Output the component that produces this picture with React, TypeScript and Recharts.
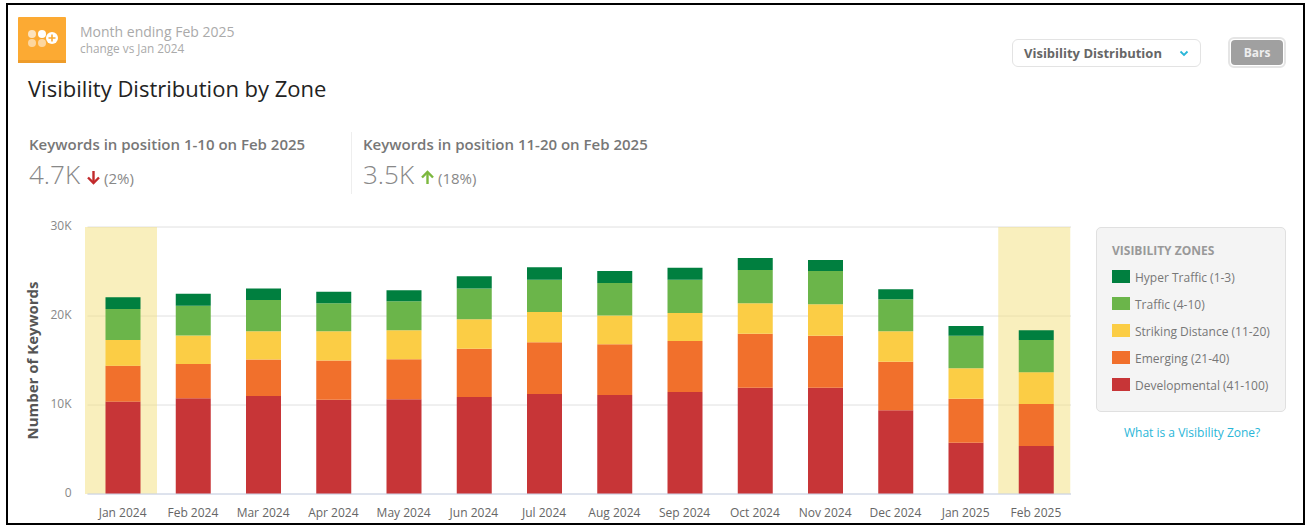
import React from "react";
import {
  BarChart,
  Bar,
  XAxis,
  YAxis,
  CartesianGrid,
  ReferenceArea,
} from "recharts";

const months = [
  "Jan 2024", "Feb 2024", "Mar 2024", "Apr 2024", "May 2024", "Jun 2024", "Jul 2024",
  "Aug 2024", "Sep 2024", "Oct 2024", "Nov 2024", "Dec 2024", "Jan 2025", "Feb 2025",
];
const developmental = [10400, 10750, 11000, 10600, 10640, 10900, 11240, 11120, 11460, 11950, 11950, 9400, 5770, 5390];
const emerging = [4000, 3850, 4100, 4400, 4490, 5430, 5800, 5700, 5730, 6060, 5840, 5470, 4940, 4720];
const strikingDistance = [2900, 3200, 3200, 3280, 3260, 3300, 3410, 3250, 3150, 3410, 3520, 3410, 3410, 3560];
const traffic = [3500, 3350, 3500, 3150, 3260, 3470, 3630, 3630, 3740, 3750, 3750, 3590, 3670, 3630];
const hyperTraffic = [1300, 1350, 1300, 1300, 1230, 1360, 1390, 1360, 1350, 1350, 1230, 1130, 1090, 1090];

const yTicks = [0, 10000, 20000, 30000];
const highlighted = ["Jan 2024", "Feb 2025"];

const zones = [
  { key: "hyper", label: "Hyper Traffic (1-3)", color: "#007f3f" },
  { key: "traffic", label: "Traffic (4-10)", color: "#6bb54a" },
  { key: "striking", label: "Striking Distance (11-20)", color: "#fbcd45" },
  { key: "emerging", label: "Emerging (21-40)", color: "#f1702c" },
  { key: "developmental", label: "Developmental (41-100)", color: "#c73537" },
];

const data = months.map((month, i) => ({
  month,
  developmental: developmental[i],
  emerging: emerging[i],
  striking: strikingDistance[i],
  traffic: traffic[i],
  hyper: hyperTraffic[i],
}));

const FONT = "'Open Sans', sans-serif";

const formatK = (v: number) => (v === 0 ? "0" : `${v / 1000}K`);

const abs = (left: number, top: number, extra: React.CSSProperties = {}): React.CSSProperties => ({
  position: "absolute",
  left,
  top,
  whiteSpace: "nowrap",
  ...extra,
});

// the shaded month column sits a touch wider than its band; translucent so the grid shows through
const HighlightShape = (props: any) => (
  <rect x={props.x - 2.5} y={props.y} width={72} height={props.height} fill="#f3df7b" fillOpacity={0.5} />
);

const Arrow = ({ x, y, color, up }: { x: number; y: number; color: string; up: boolean }) => (
  <svg style={abs(x, y)} width={15} height={15} viewBox="0 0 15 15">
    <g transform={up ? undefined : "rotate(180 7.5 7.5)"} fill="none" stroke={color} strokeWidth={2.4}>
      <path d="M7.5 14V2" />
      <path d="M2 7.5L7.5 2L13 7.5" />
    </g>
  </svg>
);

const Logo = () => (
  <svg style={abs(18, 17)} width={48} height={46} viewBox="0 0 48 46">
    <rect width={48} height={46} rx={1} fill="#fcaa33" />
    <rect y={43} width={48} height={3} fill="#ee9c2a" />
    <circle cx={14} cy={17} r={4} fill="#fde3bd" />
    <circle cx={24} cy={17} r={4} fill="#fff" />
    <circle cx={14} cy={26} r={4} fill="#fdd79f" />
    <circle cx={24} cy={26} r={4} fill="#fdd79f" />
    <circle cx={34} cy={21} r={6} fill="#fff" />
    <path d="M34 17.5v7M30.5 21h7" stroke="#fcaa33" strokeWidth={1.6} />
  </svg>
);

const StatBlock = ({
  x, title, value, change, arrowX, changeX, color, up,
}: {
  x: number; title: string; value: string; change: string; arrowX: number; changeX: number; color: string; up: boolean;
}) => (
  <>
    <div style={abs(x, 134, { fontSize: 15, fontWeight: 600, color: "#777", lineHeight: "20px" })}>{title}</div>
    <div style={abs(x, 156, { fontSize: 26, fontWeight: 300, color: "#888", lineHeight: "36px" })}>{value}</div>
    <Arrow x={arrowX} y={170} color={color} up={up} />
    <div style={abs(changeX, 168, { fontSize: 15, color: "#888", lineHeight: "20px" })}>{change}</div>
  </>
);

const ZonePanel = () => (
  <div
    style={abs(1096, 227, {
      width: 190,
      height: 185,
      boxSizing: "border-box",
      background: "#f4f4f4",
      border: "1px solid #e0e0e0",
      borderRadius: 5,
    })}
  >
    <div style={abs(15, 14, { fontSize: 12, fontWeight: 700, color: "#999", lineHeight: "18px" })}>VISIBILITY ZONES</div>
    {zones.map((z, i) => (
      <React.Fragment key={z.key}>
        <div style={abs(15, 42 + i * 27, { width: 18, height: 13, background: z.color })} />
        <div style={abs(38, 41 + i * 27, { fontSize: 12, color: "#777", lineHeight: "18px" })}>{z.label}</div>
      </React.Fragment>
    ))}
  </div>
);

export default function App() {
  return (
    <div style={{ position: "absolute", left: 0, top: 0, width: 1305, height: 525, background: "#fff", overflow: "hidden", fontFamily: FONT }}>
      <div style={abs(6, 3, { width: 1299, height: 522, boxSizing: "border-box", border: "2px solid #000" })} />

      <Logo />
      <div style={abs(80, 22, { fontSize: 14, color: "#aaa", lineHeight: "20px" })}>Month ending Feb 2025</div>
      <div style={abs(80, 40, { fontSize: 11.8, color: "#aaa", lineHeight: "16px" })}>change vs Jan 2024</div>
      <div style={abs(28, 73, { fontSize: 22, color: "#222", lineHeight: "30px" })}>Visibility Distribution by Zone</div>

      <StatBlock x={29} title="Keywords in position 1-10 on Feb 2025" value="4.7K" change="(2%)" arrowX={86} changeX={104} color="#c22a2c" up={false} />
      <div style={abs(351, 132, { width: 1, height: 62, background: "#eee" })} />
      <StatBlock x={363} title="Keywords in position 11-20 on Feb 2025" value="3.5K" change="(18%)" arrowX={420} changeX={438} color="#7cb83e" up />

      <div
        style={abs(1012, 39, {
          width: 189,
          height: 28,
          boxSizing: "border-box",
          border: "1px solid #e3e3e3",
          borderRadius: 6,
        })}
      />
      <div style={abs(1024, 44, { fontSize: 13, fontWeight: 700, color: "#666", lineHeight: "18px" })}>Visibility Distribution</div>
      <svg style={abs(1179, 50)} width={10} height={7} viewBox="0 0 10 7">
        <path d="M1.5 1.5L5 5L8.5 1.5" fill="none" stroke="#29b6d8" strokeWidth={1.8} />
      </svg>
      <div style={abs(1228, 37, { width: 58, height: 31, boxSizing: "border-box", border: "2px solid #e5e5e5", borderRadius: 6, padding: 1 })}>
        <div style={{ height: "100%", background: "#a0a0a0", borderRadius: 4, color: "#eee", fontSize: 12, fontWeight: 700, textAlign: "center", lineHeight: "26px" }}>Bars</div>
      </div>

      <div style={abs(0, 0)}>
        <BarChart
          width={1305}
          height={525}
          data={data}
          barSize={35}
          margin={{ top: 227, right: 234, bottom: 0, left: 0 }}
          style={{ fontFamily: FONT }}
        >
          <CartesianGrid vertical={false} stroke="#e0e0e0" />
          {highlighted.map((m) => (
            <ReferenceArea key={m} x1={m} x2={m} shape={HighlightShape} />
          ))}
          <XAxis
            dataKey="month"
            height={31}
            interval={0}
            tickLine={false}
            stroke="#ccd6eb"
            tick={{ fill: "#666", fontSize: 12 }}
            tickMargin={8}
          />
          <YAxis
            width={87.5}
            domain={[0, 30000]}
            ticks={yTicks}
            tickFormatter={formatK}
            axisLine={false}
            tickLine={false}
            tick={{ fill: "#888", fontSize: 12, dy: -1 }}
            tickMargin={10}
            label={{
              value: "Number of Keywords",
              angle: -90,
              position: "insideLeft",
              offset: 33,
              style: { fill: "#555", fontSize: 15, fontWeight: 700, textAnchor: "middle" },
            }}
          />
          <Bar dataKey="developmental" stackId="zones" fill="#c73537" isAnimationActive={false} />
          <Bar dataKey="emerging" stackId="zones" fill="#f1702c" isAnimationActive={false} />
          <Bar dataKey="striking" stackId="zones" fill="#fbcd45" isAnimationActive={false} />
          <Bar dataKey="traffic" stackId="zones" fill="#6bb54a" isAnimationActive={false} />
          <Bar dataKey="hyper" stackId="zones" fill="#007f3f" isAnimationActive={false} />
        </BarChart>
      </div>

      <ZonePanel />
      <div style={abs(1124, 425, { fontSize: 12, color: "#29b6d8", lineHeight: "16px" })}>What is a Visibility Zone?</div>
    </div>
  );
}
